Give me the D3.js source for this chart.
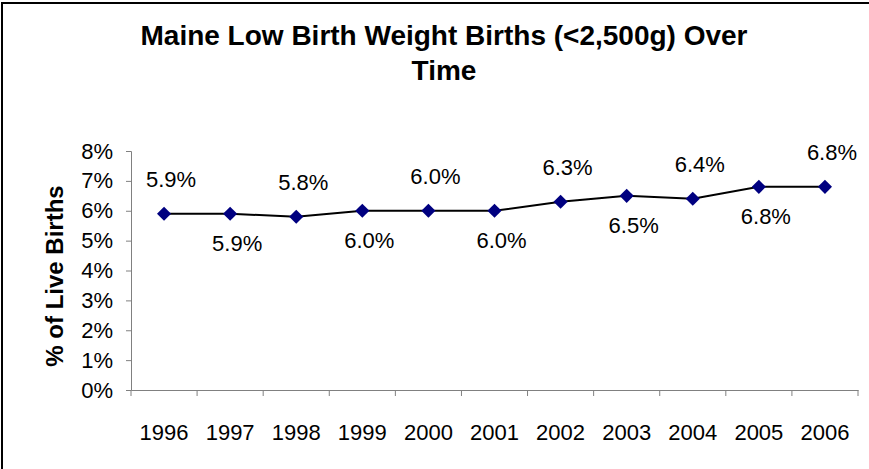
<!DOCTYPE html>
<html>
<head>
    <meta charset="utf-8">
    <title>Maine Low Birth Weight Births</title>
    <script src="https://d3js.org/d3.v7.min.js"></script>
    <style>
        body { margin: 0; background: #fff; }
        text { font-family: "Liberation Sans", Arial, sans-serif; fill: #000; }
        .tick-label { font-size: 22px; }
        .data-label { font-size: 22px; }
        .title { font-size: 28px; font-weight: bold; }
        .axis-title { font-size: 24px; font-weight: bold; }
    </style>
</head>
<body>
    <div id="chart"></div>
    <script>
        const years = ["1996", "1997", "1998", "1999", "2000", "2001", "2002", "2003", "2004", "2005", "2006"];
        const rates = [5.9, 5.9, 5.8, 6.0, 6.0, 6.0, 6.3, 6.5, 6.4, 6.8, 6.8];
        // label sits above (1) or below (-1) the point, as in the original
        const labelSide = [1, -1, 1, -1, 1, -1, 1, -1, 1, -1, 1];
        const yTicks = [0, 1, 2, 3, 4, 5, 6, 7, 8];

        const width = 869;
        const height = 469;
        const plot = { left: 131, right: 858, top: 151, bottom: 390 };

        const svg = d3.select("#chart")
            .append("svg")
            .attr("width", width)
            .attr("height", height);

        // outer frame (only top and left edges are visible in the original)
        svg.append("path")
            .attr("d", `M2,${height} V3 H${width}`)
            .attr("fill", "none")
            .attr("stroke", "#000")
            .attr("stroke-width", 2);

        const x = d3.scaleBand()
            .domain(years)
            .range([plot.left, plot.right]);

        const y = d3.scaleLinear()
            .domain([0, 8])
            .range([plot.bottom, plot.top]);

        // y axis
        const yAxis = svg.append("g")
            .attr("transform", `translate(${plot.left},0)`)
            .call(d3.axisLeft(y).tickValues(yTicks).tickSize(5).tickPadding(13)
                .tickFormat(d => d + "%"));
        yAxis.select(".domain").attr("stroke", "#808080");
        yAxis.selectAll(".tick line").attr("stroke", "#808080");
        yAxis.selectAll(".tick text")
            .attr("class", "tick-label")
            .attr("fill", "#000");

        // x axis, ticks between categories
        const xAxis = svg.append("g")
            .attr("transform", `translate(0,${plot.bottom})`)
            .call(d3.axisBottom(x).tickSize(0).tickPadding(34));
        xAxis.select(".domain").attr("stroke", "#808080");
        xAxis.selectAll(".tick text")
            .attr("class", "tick-label")
            .attr("fill", "#000");
        const edges = years.map(d => x(d)).concat([x(years[years.length - 1]) + x.bandwidth()]);
        svg.append("g")
            .selectAll("line")
            .data(edges)
            .enter()
            .append("line")
            .attr("x1", d => d)
            .attr("x2", d => d)
            .attr("y1", plot.bottom)
            .attr("y2", plot.bottom + 6)
            .attr("stroke", "#808080");

        const cx = d => x(d) + x.bandwidth() / 2;

        // line
        const line = d3.line()
            .x((d, i) => cx(years[i]))
            .y(d => y(d));

        svg.append("path")
            .datum(rates)
            .attr("d", line)
            .attr("fill", "none")
            .attr("stroke", "#000")
            .attr("stroke-width", 2);

        // diamond markers
        svg.append("g")
            .selectAll("path")
            .data(rates)
            .enter()
            .append("path")
            .attr("d", d3.symbol().type(d3.symbolSquare).size(100))
            .attr("transform", (d, i) => `translate(${cx(years[i])},${y(d)}) rotate(45)`)
            .attr("fill", "#000080");

        // data labels
        svg.append("g")
            .selectAll("text")
            .data(rates)
            .enter()
            .append("text")
            .attr("class", "data-label")
            .attr("x", (d, i) => cx(years[i]) + 7)
            .attr("y", (d, i) => y(d) + (labelSide[i] > 0 ? -27 : 37))
            .attr("text-anchor", "middle")
            .text(d => d.toFixed(1) + "%");

        // titles
        svg.append("text")
            .attr("class", "title")
            .attr("x", 444)
            .attr("y", 45)
            .attr("text-anchor", "middle")
            .text("Maine Low Birth Weight Births (<2,500g) Over");
        svg.append("text")
            .attr("class", "title")
            .attr("x", 444)
            .attr("y", 80)
            .attr("text-anchor", "middle")
            .text("Time");

        svg.append("text")
            .attr("class", "axis-title")
            .attr("transform", `translate(63,276) rotate(-90)`)
            .attr("text-anchor", "middle")
            .text("% of Live Births");
    </script>
</body>
</html>
